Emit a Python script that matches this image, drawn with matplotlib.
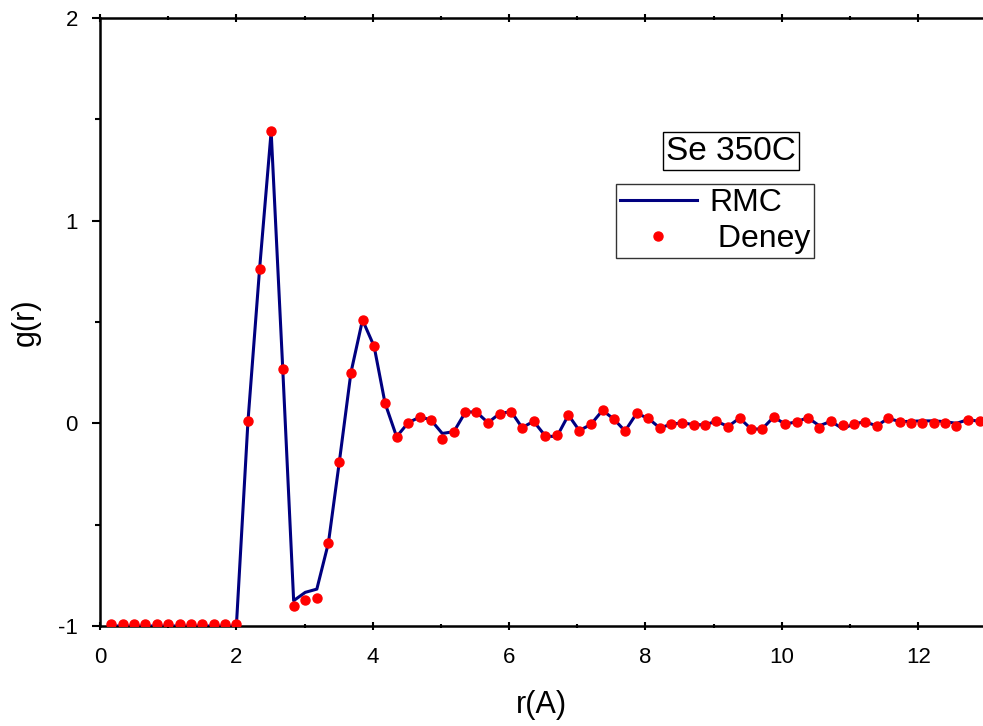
import numpy as np
from matplotlib import pyplot as plt
from matplotlib.ticker import MultipleLocator

# Pair distribution function for liquid Se at 350C
# r grid (Angstrom), same grid for both curves
r = [0.16, 0.33, 0.50, 0.66, 0.83, 1.00, 1.17, 1.33, 1.50, 1.67,
     1.84, 2.00, 2.17, 2.34, 2.51, 2.68, 2.84, 3.01, 3.18, 3.35,
     3.51, 3.68, 3.85, 4.02, 4.18, 4.35, 4.52, 4.69, 4.85, 5.02,
     5.19, 5.36, 5.52, 5.69, 5.86, 6.03, 6.19, 6.36, 6.53, 6.70,
     6.87, 7.03, 7.20, 7.37, 7.54, 7.70, 7.87, 8.04, 8.21, 8.37,
     8.54, 8.71, 8.88, 9.04, 9.21, 9.38, 9.55, 9.71, 9.88, 10.05,
     10.22, 10.38, 10.55, 10.72, 10.89, 11.06, 11.22, 11.39, 11.56, 11.73,
     11.89, 12.06, 12.23, 12.40, 12.56, 12.73, 12.90]

# Experimental points (Deney)
deney = [-0.99, -0.99, -0.99, -0.99, -0.99, -0.99, -0.99, -0.99, -0.99, -0.99,
         -0.99, -0.99, 0.01, 0.76, 1.44, 0.27, -0.90, -0.87, -0.86, -0.59,
         -0.19, 0.25, 0.51, 0.38, 0.10, -0.066, 0.003, 0.031, 0.018, -0.075,
         -0.041, 0.056, 0.056, 0.003, 0.048, 0.058, -0.021, 0.010, -0.062, -0.058,
         0.041, -0.036, -0.005, 0.064, 0.020, -0.038, 0.049, 0.025, -0.023, -0.005,
         0.003, -0.007, -0.007, 0.011, -0.016, 0.026, -0.028, -0.028, 0.031, -0.004,
         0.008, 0.028, -0.025, 0.010, -0.008, -0.003, 0.008, -0.013, 0.025, 0.008,
         0.000, 0.002, 0.003, 0.002, -0.011, 0.018, 0.010]

# RMC fit
rmc = [-1.0, -1.0, -1.0, -1.0, -1.0, -1.0, -1.0, -1.0, -1.0, -1.0,
       -1.0, -1.0, 0.01, 0.76, 1.44, 0.27, -0.875, -0.834, -0.818, -0.59,
       -0.19, 0.25, 0.51, 0.38, 0.10, -0.066, 0.003, 0.031, 0.018, -0.05,
       -0.041, 0.056, 0.056, 0.003, 0.048, 0.058, -0.021, 0.010, -0.062, -0.066,
       0.041, -0.036, -0.005, 0.064, 0.020, -0.038, 0.049, 0.025, -0.023, -0.005,
       0.003, -0.007, -0.007, 0.011, -0.016, 0.026, -0.028, -0.028, 0.031, -0.004,
       0.008, 0.028, -0.012, 0.010, -0.026, -0.003, 0.008, -0.013, 0.025, 0.008,
       0.010, 0.012, 0.012, 0.008, 0.000, 0.018, 0.010]

plt.rcParams['font.family'] = ['Liberation Sans', 'DejaVu Sans']
plt.rcParams['axes.unicode_minus'] = False  # plain hyphen for -1

W, H = 983, 726
fig = plt.figure(figsize=(W / 100, H / 100), dpi=100)
ax = fig.add_axes([100 / W, 100 / H, 883 / W, 608 / H])

ax.plot(r, rmc, color='#000080', lw=2.2, label='RMC', zorder=3)
ax.plot(r, deney, ls='none', marker='o', ms=6.5, color='red', label=' Deney', zorder=4)

ax.set_xlim(0, 12.95)
ax.set_ylim(-1, 2)

# Ticks like the Origin export
ax.xaxis.set_major_locator(MultipleLocator(2))
ax.xaxis.set_minor_locator(MultipleLocator(1))
ax.yaxis.set_major_locator(MultipleLocator(1))
ax.yaxis.set_minor_locator(MultipleLocator(0.5))
ax.tick_params(which='major', direction='out', length=6, width=1.5, labelsize=16, pad=10)
ax.tick_params(which='minor', direction='out', length=3.5, width=1.5)
ax.tick_params(axis='x', which='both', top=True, direction='inout')
ax.tick_params(axis='x', which='major', pad=12)

for side in ['left', 'bottom', 'top']:
    ax.spines[side].set_linewidth(1.8)
ax.spines['right'].set_visible(False)

ax.set_xlabel('r(A)', fontsize=22, labelpad=16)
ax.set_ylabel('g(r)', fontsize=22, labelpad=12)

# Legend box and the title box
leg = ax.legend(loc='upper left', bbox_to_anchor=(616 / W, 1 - 184 / H),
                bbox_transform=fig.transFigure, fontsize=23, frameon=True,
                fancybox=False, borderpad=0.12, labelspacing=0.2,
                handlelength=2.4, handletextpad=0.4, borderaxespad=0)
leg.get_frame().set_edgecolor('black')
leg.get_frame().set_linewidth(1.0)

fig.text(731 / W, 1 - 151 / H, 'Se 350C', fontsize=24, ha='center', va='center',
         bbox=dict(boxstyle='square,pad=0.1', fc='white', ec='black', lw=1.0))

plt.savefig('out.png', dpi=100)
